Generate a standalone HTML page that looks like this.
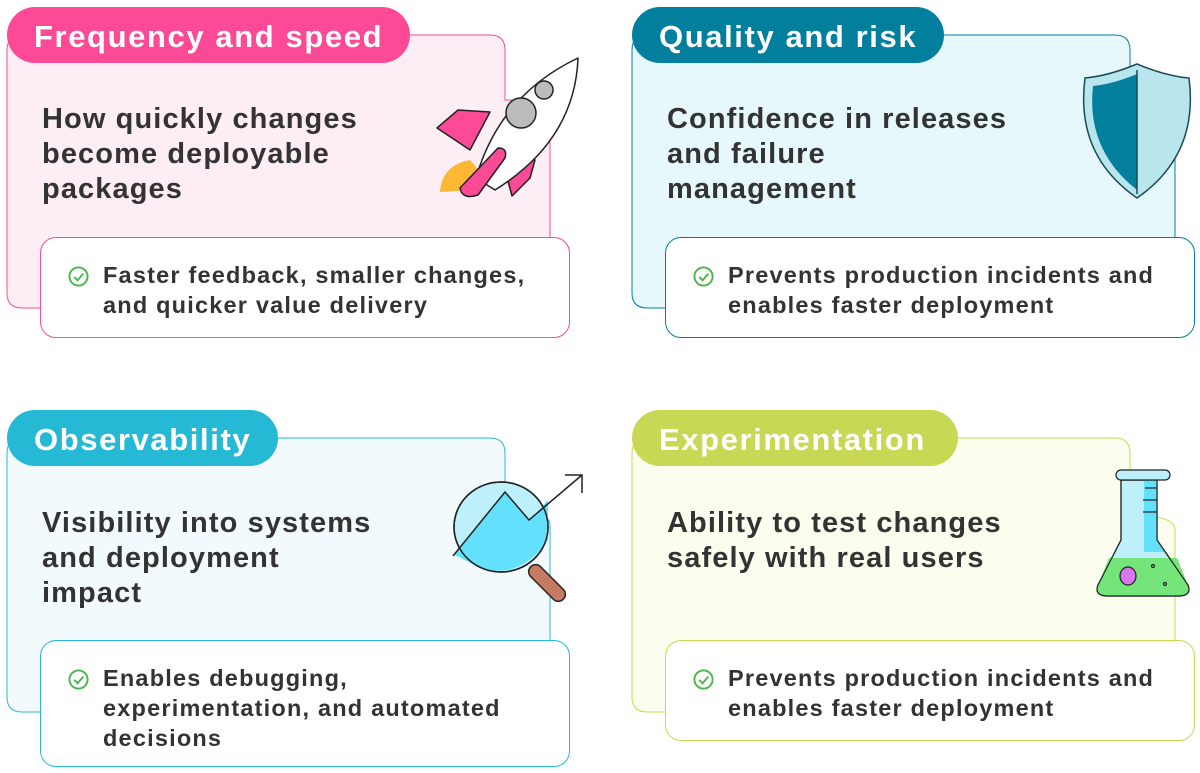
<!DOCTYPE html>
<html><head><meta charset="utf-8"><style>
body{margin:0;width:1200px;height:773px;background:#fff;position:relative;overflow:hidden;font-family:"Liberation Sans",sans-serif;}
.t{position:absolute;color:#333;font-size:29px;line-height:35px;font-weight:bold;letter-spacing:1.1px}
.tab{position:absolute;color:#fff;font-size:31px;line-height:60px;height:56px;border-radius:28px;padding-left:27px;box-sizing:border-box;letter-spacing:1.6px;font-weight:bold}
.in{position:absolute;background:#fff;border-radius:16px;box-sizing:border-box;border:1.5px solid}
.b{position:absolute;left:62px;color:#333;font-size:23.5px;line-height:30px;letter-spacing:1.2px;font-weight:bold}
.ck{position:absolute;left:27px;width:21px;height:21px}
</style></head><body>
<svg width="1200" height="773" style="position:absolute;left:0;top:0">
<path d="M7 50 Q7 35 22 35 H490 Q505 35 505 50 V100 Q550 100 550 115 V308 H22 Q7 308 7 293 Z" fill="#fdeef5" stroke="#fc4a96" stroke-width="1"/>
<path d="M632 50 Q632 35 647 35 H1115 Q1130 35 1130 50 V100 Q1175 100 1175 115 V308 H647 Q632 308 632 293 Z" fill="#e7f8fc" stroke="#027f9c" stroke-width="1"/>
<path d="M7 453 Q7 438 22 438 H490 Q505 438 505 453 V510 Q550 510 550 525 V712 H22 Q7 712 7 697 Z" fill="#f3fafd" stroke="#25b9d6" stroke-width="1"/>
<path d="M632 453 Q632 438 647 438 H1115 Q1130 438 1130 453 V515 Q1175 515 1175 530 V712 H647 Q632 712 632 697 Z" fill="#fbfdef" stroke="#c8d854" stroke-width="1"/>
<!-- rocket -->
<g stroke="#222" stroke-width="1.5" stroke-linejoin="round">
<path d="M440 192 Q442 165 470 160 Q490 180 470 190 Z" fill="#fcb833" stroke="none"/>
<path d="M437 128 L458 110 L490 112 L470 150 Z" fill="#fc4a96"/>
<path d="M505 150 L535 160 L530 178 L512 196 L505 170 Z" fill="#fc4a96"/>
<path d="M476 178 Q500 95 578 58 Q575 140 495 190 Z" fill="#fff"/>
<circle cx="521" cy="113" r="15" fill="#bbb"/>
<circle cx="544" cy="90" r="9" fill="#bbb"/>
<path d="M460 188 L498 148 Q508 148 505 158 L478 195 Q462 200 460 188 Z" fill="#fc4a96"/>
</g>
<!-- shield -->
<g stroke="#1a4b57" stroke-width="1.5">
<path d="M1137 64 Q1108 76 1085 78 Q1075 155 1137 198 Q1199 155 1189 78 Q1166 76 1137 64 Z" fill="#b8e6ec"/>
<path d="M1137 74 Q1113 84 1093 86 Q1086 150 1137 190 Z" fill="#027f9c" stroke="none"/>
<line x1="1137" y1="70" x2="1137" y2="194"/>
</g>
<!-- magnifier -->
<g stroke="#222" stroke-width="1.5">
<rect x="540" y="560" width="14" height="46" rx="7" transform="rotate(-45 547 583)" fill="#c57a62"/>
<ellipse cx="501" cy="527" rx="47" ry="45" fill="#bdf0fb"/>
<path d="M455 555 L505 492 L530 520 L548 500 L548 540 Q520 580 480 568 Z" fill="#63e0fc" stroke="none"/>
<ellipse cx="501" cy="527" rx="47" ry="45" fill="none"/>
<path d="M453 556 L505 492 L529 520 L582 475" fill="none"/>
<path d="M565 475 H582 V493" fill="none"/>
</g>
<!-- flask -->
<g stroke="#222" stroke-width="1.2">
<path d="M1121 480 H1157 V540 L1188 585 Q1192 595 1180 596 H1106 Q1094 595 1098 585 L1121 540 Z" fill="#bdf0fb"/>
<path d="M1144 480 H1157 V540 L1166 552 H1144 Z" fill="#63e0fc" stroke="none"/>
<path d="M1109 558 H1177 L1188 585 Q1192 595 1180 596 H1106 Q1094 595 1098 585 Z" fill="#74e57a" stroke="none"/>
<path d="M1121 480 H1157 V540 L1188 585 Q1192 595 1180 596 H1106 Q1094 595 1098 585 L1121 540 Z" fill="none"/>
<rect x="1116" y="470" width="54" height="10" rx="5" fill="#bdf0fb"/>
<ellipse cx="1128" cy="576" rx="8" ry="9" fill="#d977f0"/>
<circle cx="1153" cy="566" r="1.5" fill="none"/><circle cx="1165" cy="584" r="1.5" fill="none"/>
<line x1="1145" y1="488" x2="1157" y2="488"/><line x1="1143" y1="500" x2="1157" y2="500"/><line x1="1143" y1="512" x2="1157" y2="512"/>
</g>
</svg>
<div class="tab" style="left:7px;top:7px;width:403px;background:#fc4a96">Frequency and speed</div>
<div class="tab" style="left:632px;top:7px;width:312px;background:#027f9c">Quality and risk</div>
<div class="tab" style="left:7px;top:410px;width:271px;background:#25b9d6">Observability</div>
<div class="tab" style="left:632px;top:410px;width:326px;background:#c8d854">Experimentation</div>
<div class="t" style="left:42px;top:102px">How quickly changes<br>become deployable<br>packages</div>
<div class="t" style="left:667px;top:102px">Confidence in releases<br>and failure<br>management</div>
<div class="t" style="left:42px;top:506px">Visibility into systems<br>and deployment<br>impact</div>
<div class="t" style="left:667px;top:506px">Ability to test changes<br>safely with real users</div>

<div class="in" style="left:40px;top:237px;width:530px;height:101px;border-color:#fc4a96">
<svg class="ck" style="top:28px" viewBox="0 0 22 22"><circle cx="11" cy="11" r="9.5" fill="none" stroke="#4ab54a" stroke-width="2"/><path d="M6.5 11.5 L10 15 L16 8" fill="none" stroke="#4ab54a" stroke-width="2"/></svg>
<div class="b" style="top:22px">Faster feedback, smaller changes,<br>and quicker value delivery</div></div>
<div class="in" style="left:665px;top:237px;width:530px;height:101px;border-color:#027f9c">
<svg class="ck" style="top:28px" viewBox="0 0 22 22"><circle cx="11" cy="11" r="9.5" fill="none" stroke="#4ab54a" stroke-width="2"/><path d="M6.5 11.5 L10 15 L16 8" fill="none" stroke="#4ab54a" stroke-width="2"/></svg>
<div class="b" style="top:22px">Prevents production incidents and<br>enables faster deployment</div></div>
<div class="in" style="left:40px;top:640px;width:530px;height:127px;border-color:#25b9d6">
<svg class="ck" style="top:28px" viewBox="0 0 22 22"><circle cx="11" cy="11" r="9.5" fill="none" stroke="#4ab54a" stroke-width="2"/><path d="M6.5 11.5 L10 15 L16 8" fill="none" stroke="#4ab54a" stroke-width="2"/></svg>
<div class="b" style="top:22px">Enables debugging,<br>experimentation, and automated<br>decisions</div></div>
<div class="in" style="left:665px;top:640px;width:530px;height:101px;border-color:#c8d854">
<svg class="ck" style="top:28px" viewBox="0 0 22 22"><circle cx="11" cy="11" r="9.5" fill="none" stroke="#4ab54a" stroke-width="2"/><path d="M6.5 11.5 L10 15 L16 8" fill="none" stroke="#4ab54a" stroke-width="2"/></svg>
<div class="b" style="top:22px">Prevents production incidents and<br>enables faster deployment</div></div>
</body></html>
